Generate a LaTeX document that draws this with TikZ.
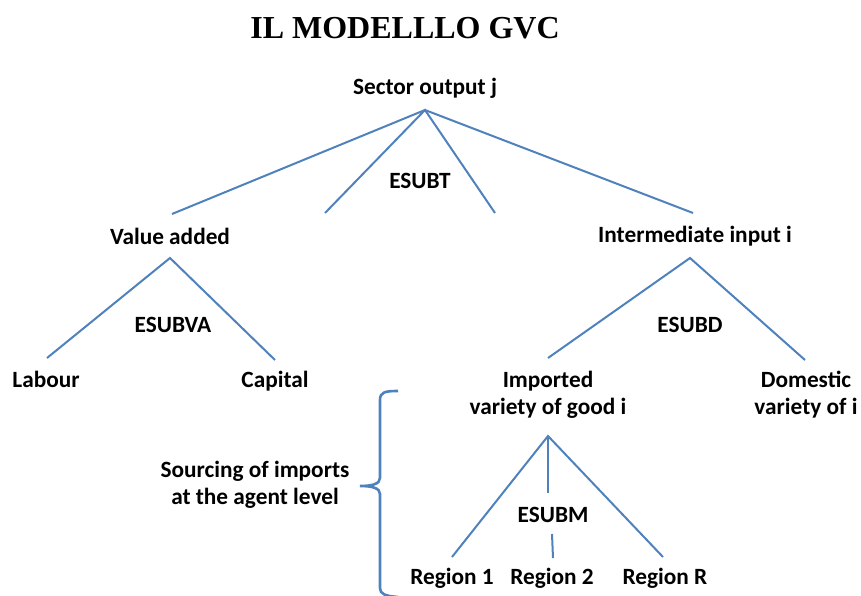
\documentclass[tikz,border=0pt]{standalone}
\usepackage{fontspec}
\setmainfont{Carlito}
\newfontfamily\titlefont{Liberation Serif}
\definecolor{linkblue}{HTML}{4F81BD}
\begin{document}
\begin{tikzpicture}[x=1pt,y=-1pt,
  lbl/.style={font=\fontsize{23.3}{27}\selectfont\bfseries, inner sep=0pt, align=center},
  link/.style={draw=linkblue, line width=2pt},
  brace/.style={draw=linkblue, line width=2.6pt}]
\useasboundingbox (0,0) rectangle (861,596);
\node[font=\titlefont\fontsize{32}{36}\selectfont\bfseries, inner sep=0pt] (title) at (405,28) {IL MODELLLO GVC};
\node[lbl] (sector) at (425,88) {Sector output j};
\node[lbl] (va) at (170,236) {Value added};
\node[lbl] (ii) at (695,236) {Intermediate input i};
\node[lbl] (lab) at (46,379) {Labour};
\node[lbl] (cap) at (275,381) {Capital};
\node[lbl] (imp) at (548,395) {Imported\\variety of good i};
\node[lbl] (dom) at (806,395) {Domestic\\variety of i};
\node[lbl] (r1) at (452,578) {Region 1};
\node[lbl] (r2) at (552,578) {Region 2};
\node[lbl] (rr) at (665,578) {Region R};
\node[lbl] (esubt) at (420,181) {ESUBT};
\node[lbl] (esubva) at (173,325) {ESUBVA};
\node[lbl] (esubd) at (690,325) {ESUBD};
\node[lbl] (esubm) at (553,515) {ESUBM};
\node[lbl] (src) at (255,485) {Sourcing of imports\\at the agent level};
% apexes and branch ends
\coordinate (a0) at (425,110);
\coordinate (t1) at (172,214);
\coordinate (t2) at (325,213);
\coordinate (t3) at (495,213);
\coordinate (t4) at (693,213);
\coordinate (a1) at (170,258);
\coordinate (v1) at (47,358);
\coordinate (v2) at (275,360);
\coordinate (a2) at (690,258);
\coordinate (d1) at (548,358);
\coordinate (d2) at (805,360);
\coordinate (a3) at (548,436);
\coordinate (m1) at (452,557);
\coordinate (m2a) at (548,493);
\coordinate (m2b) at (552,534);
\coordinate (m2c) at (553,558);
\coordinate (m3) at (663,557);
\draw[link] (t1) -- (a0) -- (t4);
\draw[link] (t2) -- (a0) -- (t3);
\draw[link] (v1) -- (a1) -- (v2);
\draw[link] (d1) -- (a2) -- (d2);
\draw[link] (m1) -- (a3) -- (m3);
\draw[link] (a3) -- (m2a);
\draw[link] (m2b) -- (m2c);
% brace
\coordinate (bt) at (398,391);
\coordinate (btip) at (360,486);
\coordinate (bb) at (398,597);
\draw[brace] (bt) .. controls (385,391) and (380,392) .. (380,400)
  -- (380,478) .. controls (380,484) and (372,486) .. (btip)
  .. controls (372,486) and (380,488) .. (380,494)
  -- (380,588) .. controls (380,594) and (385,596) .. (bb);
\end{tikzpicture}
\end{document}
